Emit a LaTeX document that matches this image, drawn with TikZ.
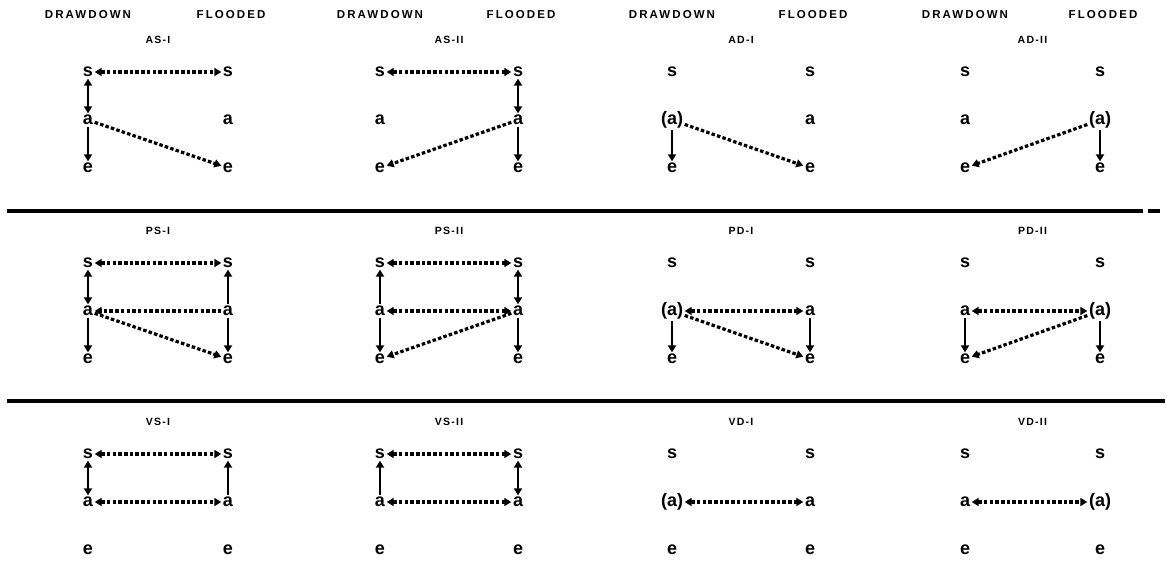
\documentclass[tikz,border=0pt]{standalone}
\usepackage{fontspec}
\setmainfont{Liberation Sans}
\newfontfamily\hdrfont{Liberation Sans}[LetterSpace=18]
\newfontfamily\ttlfont{Liberation Sans}[LetterSpace=12]
\usetikzlibrary{arrows.meta}

\tikzset{
  lett/.style={font=\fontsize{18}{18}\selectfont\bfseries, inner sep=1.5pt},
  hdr/.style={font=\hdrfont\fontsize{11.5}{11.5}\selectfont\bfseries},
  ttl/.style={font=\ttlfont\fontsize{10.5}{10.5}\selectfont\bfseries},
  dflow/.style={line width=3.2pt, dash pattern=on 3.5pt off 2.2pt,
    >={Triangle[length=7pt,width=8pt]}},
  vflow/.style={line width=2.4pt, >={Triangle[length=7pt,width=8pt]}},
  sep/.style={line width=3.5pt},
}

\begin{document}
\begin{tikzpicture}[x=1pt, y=-1pt]
    \useasboundingbox (0,0) rectangle (1167,560);

    % Column headers
    \foreach \lx/\rx in {88/228, 380/518, 672/810, 965/1100} {
        \node[hdr] at (\lx,15) {DRAWDOWN};
        \node[hdr] at (\rx+3,15) {FLOODED};
    }

    % Letters of every panel: s, a, e on the drawdown and flooded side
    \foreach \p/\lx/\rx/\cy/\la/\ra/\t in {
        asi/88/228/72/a/a/AS-I, asii/380/518/72/a/a/AS-II,
        adi/672/810/72/(a)/a/AD-I, adii/965/1100/72/a/(a)/AD-II,
        psi/88/228/263/a/a/PS-I, psii/380/518/263/a/a/PS-II,
        pdi/672/810/263/(a)/a/PD-I, pdii/965/1100/263/a/(a)/PD-II,
        vsi/88/228/454/a/a/VS-I, vsii/380/518/454/a/a/VS-II,
        vdi/672/810/454/(a)/a/VD-I, vdii/965/1100/454/a/(a)/VD-II} {
        \node[ttl] (\p-t) at ({(\lx+\rx)/2},\cy-32) {\t};
        \node[lett] (\p-sl) at (\lx,\cy) {s};
        \node[lett] (\p-al) at (\lx,\cy+48) {\la};
        \node[lett] (\p-el) at (\lx,\cy+96) {e};
        \node[lett] (\p-sr) at (\rx,\cy) {s};
        \node[lett] (\p-ar) at (\rx,\cy+48) {\ra};
        \node[lett] (\p-er) at (\rx,\cy+96) {e};
    }

    % Row separators
    \draw[sep] (7,211) -- (1143,211);
    \draw[sep] (1148,211) -- (1160,211);
    \draw[sep] (7,401) -- (1165,401);

    % AS-I
    \draw[dflow,<->] (asi-sl) -- (asi-sr);
    \draw[vflow,<->] (asi-sl) -- (asi-al);
    \draw[vflow,->] (asi-al) -- (asi-el);
    \draw[dflow,->] (asi-al) -- (asi-er);

    % AS-II
    \draw[dflow,<->] (asii-sl) -- (asii-sr);
    \draw[vflow,<->] (asii-sr) -- (asii-ar);
    \draw[vflow,->] (asii-ar) -- (asii-er);
    \draw[dflow,->] (asii-ar) -- (asii-el);

    % AD-I
    \draw[vflow,->] (adi-al) -- (adi-el);
    \draw[dflow,->] (adi-al) -- (adi-er);

    % AD-II
    \draw[vflow,->] (adii-ar) -- (adii-er);
    \draw[dflow,->] (adii-ar) -- (adii-el);

    % PS-I
    \draw[dflow,<->] (psi-sl) -- (psi-sr);
    \draw[vflow,<->] (psi-sl) -- (psi-al);
    \draw[vflow,->] (psi-ar) -- (psi-sr);
    \draw[dflow,->] (psi-ar) -- (psi-al);
    \draw[vflow,->] (psi-al) -- (psi-el);
    \draw[vflow,->] (psi-ar) -- (psi-er);
    \draw[dflow,->] (psi-al) -- (psi-er);

    % PS-II
    \draw[dflow,<->] (psii-sl) -- (psii-sr);
    \draw[vflow,->] (psii-al) -- (psii-sl);
    \draw[vflow,<->] (psii-sr) -- (psii-ar);
    \draw[dflow,<->] (psii-al) -- (psii-ar);
    \draw[vflow,->] (psii-al) -- (psii-el);
    \draw[vflow,->] (psii-ar) -- (psii-er);
    \draw[dflow,->] (psii-ar) -- (psii-el);

    % PD-I
    \draw[dflow,<->] (pdi-al) -- (pdi-ar);
    \draw[vflow,->] (pdi-al) -- (pdi-el);
    \draw[vflow,->] (pdi-ar) -- (pdi-er);
    \draw[dflow,->] (pdi-al) -- (pdi-er);

    % PD-II
    \draw[dflow,<->] (pdii-al) -- (pdii-ar);
    \draw[vflow,->] (pdii-al) -- (pdii-el);
    \draw[vflow,->] (pdii-ar) -- (pdii-er);
    \draw[dflow,->] (pdii-ar) -- (pdii-el);

    % VS-I
    \draw[dflow,<->] (vsi-sl) -- (vsi-sr);
    \draw[dflow,<->] (vsi-al) -- (vsi-ar);
    \draw[vflow,<->] (vsi-sl) -- (vsi-al);
    \draw[vflow,->] (vsi-ar) -- (vsi-sr);

    % VS-II
    \draw[dflow,<->] (vsii-sl) -- (vsii-sr);
    \draw[dflow,<->] (vsii-al) -- (vsii-ar);
    \draw[vflow,->] (vsii-al) -- (vsii-sl);
    \draw[vflow,<->] (vsii-sr) -- (vsii-ar);

    % VD-I
    \draw[dflow,<->] (vdi-al) -- (vdi-ar);

    % VD-II
    \draw[dflow,<->] (vdii-al) -- (vdii-ar);
\end{tikzpicture}
\end{document}
